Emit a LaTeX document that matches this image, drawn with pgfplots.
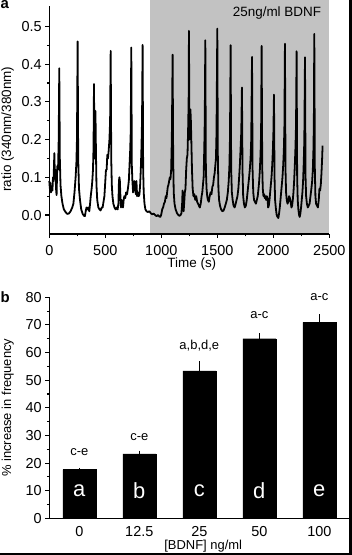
\documentclass[border=0pt]{standalone}
\usepackage{fontspec}
\setmainfont{Liberation Sans}
\usepackage{pgfplots}
\usepackage{pgfplotstable}
\pgfplotsset{compat=1.18}
\definecolor{shadegray}{gray}{0.76}

\pgfplotstableread{
t v
0 0.09
5 0.07
10 0.085
15 0.06
22 0.075
28 0.065
33 0.10
38 0.09
45 0.164
50 0.10
55 0.12
60 0.07
65 0.053
71 0.13
78 0.12
84 0.20
89 0.389
94 0.15
100 0.08
108 0.05
118 0.03
130 0.015
145 0.008
160 0.003
175 0.004
190 0.01
205 0.02
215 0.03
225 0.06
235 0.10
242 0.14
247 0.20
253 0.46
258 0.15
265 0.07
274 0.04
285 0.015
298 0.003
310 -0.002
318 -0.003
325 0.01
332 0.02
339 0.015
347 0.02
357 0.01
364 0.03
370 0.05
378 0.07
384 0.09
390 0.12
395 0.18
399 0.347
403 0.15
408 0.18
412 0.276
416 0.18
421 0.08
428 0.04
438 0.02
448 0.015
458 0.012
468 0.02
476 0.02
484 0.035
492 0.05
500 0.09
506 0.12
512 0.12
518 0.16
524 0.15
530 0.17
537 0.20
543 0.25
548 0.435
553 0.15
558 0.08
564 0.05
572 0.03
582 0.02
592 0.015
602 0.02
610 0.015
617 0.03
622 0.09
626 0.10
630 0.09
635 0.05
640 0.02
646 0.04
652 0.03
658 0.02
664 0.04
670 0.05
678 0.045
686 0.06
694 0.055
702 0.07
710 0.09
716 0.13
722 0.17
727 0.22
732 0.444
737 0.13
742 0.09
748 0.06
754 0.07
760 0.09
766 0.08
772 0.055
778 0.09
784 0.05
790 0.06
798 0.05
805 0.055
811 0.08
817 0.12
823 0.18
828 0.25
833 0.451
838 0.12
843 0.06
850 0.03
858 0.015
868 0.01
880 0.008
893 0.01
905 0.005
918 0.002
930 0.004
945 0.0
958 -0.003
970 0.0
982 -0.004
992 -0.005
1000 0.002
1008 0.015
1016 0.02
1024 0.03
1032 0.035
1040 0.05
1046 0.045
1052 0.06
1058 0.075
1064 0.08
1070 0.09
1076 0.10
1082 0.095
1088 0.12
1094 0.20
1101 0.425
1106 0.15
1111 0.06
1118 0.03
1128 0.015
1140 0.005
1152 0.0
1162 -0.002
1172 0.0
1180 0.005
1186 0.03
1190 0.065
1194 0.02
1199 0.01
1204 0.03
1210 0.06
1216 0.07
1222 0.12
1228 0.15
1234 0.16
1239 0.22
1244 0.30
1247 0.488
1251 0.20
1256 0.22
1260 0.28
1264 0.25
1268 0.20
1274 0.12
1280 0.07
1287 0.05
1295 0.055
1303 0.04
1312 0.05
1320 0.035
1328 0.03
1336 0.025
1344 0.02
1352 0.03
1360 0.05
1366 0.06
1372 0.08
1378 0.10
1384 0.18
1388 0.25
1393 0.463
1398 0.12
1404 0.07
1410 0.05
1416 0.04
1424 0.035
1432 0.05
1440 0.06
1448 0.055
1456 0.075
1463 0.08
1470 0.10
1476 0.11
1482 0.13
1488 0.15
1493 0.22
1500 0.494
1505 0.15
1510 0.07
1516 0.04
1524 0.025
1534 0.015
1545 0.01
1556 0.012
1566 0.02
1576 0.03
1585 0.04
1594 0.06
1602 0.09
1608 0.13
1613 0.20
1619 0.45
1624 0.12
1630 0.06
1637 0.04
1645 0.025
1655 0.02
1664 0.03
1672 0.04
1680 0.05
1688 0.07
1695 0.10
1701 0.13
1707 0.17
1714 0.22
1720 0.338
1725 0.12
1731 0.05
1738 0.03
1746 0.02
1755 0.025
1763 0.04
1770 0.06
1777 0.08
1784 0.10
1790 0.12
1797 0.15
1803 0.20
1810 0.419
1815 0.12
1821 0.06
1828 0.04
1836 0.035
1845 0.03
1853 0.04
1861 0.05
1868 0.07
1874 0.09
1880 0.12
1886 0.16
1891 0.22
1896 0.448
1901 0.13
1906 0.07
1912 0.05
1918 0.055
1924 0.045
1930 0.05
1936 0.04
1942 0.05
1948 0.045
1954 0.02
1960 0.025
1966 0.04
1972 0.06
1978 0.08
1984 0.10
1990 0.13
1996 0.17
2001 0.22
2006 0.319
2011 0.10
2016 0.04
2022 0.02
2030 0.0
2038 -0.005
2045 -0.008
2052 0.005
2058 0.02
2064 0.04
2070 0.06
2076 0.08
2082 0.10
2088 0.13
2094 0.17
2099 0.23
2104 0.454
2109 0.12
2114 0.06
2120 0.04
2127 0.03
2134 0.035
2141 0.05
2148 0.045
2155 0.035
2162 0.02
2168 0.025
2174 0.04
2180 0.06
2186 0.09
2192 0.13
2198 0.18
2203 0.24
2208 0.434
2213 0.10
2218 0.04
2224 0.015
2230 0.0
2236 -0.005
2242 0.005
2248 0.02
2254 0.04
2260 0.06
2266 0.09
2272 0.14
2277 0.20
2283 0.418
2288 0.10
2293 0.05
2300 0.03
2308 0.02
2316 0.025
2324 0.03
2332 0.05
2340 0.07
2347 0.09
2353 0.12
2358 0.17
2362 0.24
2366 0.48
2371 0.12
2376 0.05
2382 0.03
2390 0.025
2398 0.02
2406 0.04
2412 0.07
2418 0.065
2424 0.08
2430 0.11
2436 0.15
2440 0.184
}\tracedata

\pgfplotstableread{
x y e
0 17.6 0.7
1 23.3 1.2
2 53.4 3.5
3 65.0 1.9
4 70.9 3.0
}\bardata

\begin{document}
\begin{tikzpicture}
\useasboundingbox (0bp,0bp) rectangle (352bp,-555bp);
\fill[black] (348.5bp,0bp) rectangle (352bp,-555bp);
\fill[black] (0bp,-553.2bp) rectangle (352bp,-555bp);
\node[font=\fontsize{15}{15}\selectfont\bfseries, anchor=base west, inner sep=0pt] at (0.5bp,-8.3bp) {a};
\node[font=\fontsize{15}{15}\selectfont\bfseries, anchor=base west, inner sep=0pt] at (0.5bp,-302.3bp) {b};

\begin{axis}[
  at={(49.3bp,-233.9bp)}, anchor=south west,
  scale only axis, width=280bp, height=228.3bp,
  xmin=0, xmax=2500, ymin=-0.05, ymax=0.555,
  axis x line*=bottom, axis y line*=left,
  axis line style={line width=1.3bp, black, -},
  clip=false, axis on top,
  xtick={0,500,...,2500}, minor x tick num=1,
  ytick={0,0.1,...,0.5}, minor y tick num=1,
  tick align=outside, major tick length=4bp, minor tick length=2.5bp,
  tick style={line width=1.1bp, black},
  /pgf/number format/assume math mode=true,
  xticklabel style={/pgf/number format/1000 sep={}, yshift=-3.5bp},
  yticklabel style={/pgf/number format/.cd, fixed, fixed zerofill, precision=1},
  tick label style={font=\fontsize{14.5}{14.5}\selectfont},
  xlabel={Time (s)},
  ylabel={ratio (340nm/380nm)},
  label style={font=\fontsize{13.5}{13.5}\selectfont},
  xlabel style={at={(axis description cs:0.509,-0.13)}, anchor=center},
  ylabel style={at={(axis description cs:-0.149,0.459)}, anchor=center},
]
\fill[shadegray] (axis cs:900,-0.05) rectangle (axis cs:2500,0.571);
\node[font=\fontsize{13.5}{13.5}\selectfont, anchor=east] at (axis cs:2458,0.536) {25ng/ml BDNF};
\addplot[black, line width=1.8bp, line join=round, mark=none] table[x=t, y=v] {\tracedata};
\end{axis}

\begin{axis}[
  at={(49.3bp,-518.3bp)}, anchor=south west,
  scale only axis, width=300bp, height=221bp,
  xmin=-0.5, xmax=4.5, ymin=0, ymax=80,
  axis x line*=bottom, axis y line*=left,
  axis line style={line width=1.3bp, black, -},
  clip=false,
  ybar, bar width=33bp,
  xtick={0,1,2,3,4}, xticklabels={0,12.5,25,50,100},
  x tick style={draw=none},
  xticklabel style={yshift=-1bp},
  ytick={0,10,...,80}, minor y tick num=1,
  tick align=outside, major tick length=4bp, minor tick length=2.5bp,
  tick style={line width=1.1bp, black},
  /pgf/number format/assume math mode=true,
  tick label style={font=\fontsize{14.5}{14.5}\selectfont},
  xlabel={[BDNF] ng/ml},
  ylabel={\% increase in frequency},
  label style={font=\fontsize{13}{13}\selectfont},
  xlabel style={at={(axis description cs:0.513,-0.128)}, anchor=center},
  ylabel style={at={(axis description cs:-0.138,0.5)}, anchor=center},
]
\addplot[fill=black, draw=black,
  error bars/.cd, y dir=plus, y explicit,
  error bar style={line width=1.6bp, black},
  error mark options={draw=none, mark size=0pt}]
  table[x=x, y=y, y error=e] {\bardata};
\node[white, font=\fontsize{22}{22}\selectfont] at (axis cs:0,10) {a};
\node[white, font=\fontsize{22}{22}\selectfont] at (axis cs:1,10) {b};
\node[white, font=\fontsize{22}{22}\selectfont] at (axis cs:2,10) {c};
\node[white, font=\fontsize{22}{22}\selectfont] at (axis cs:3,10) {d};
\node[white, font=\fontsize{22}{22}\selectfont] at (axis cs:4,10) {e};
\node[font=\fontsize{13}{13}\selectfont] at (axis cs:0,23.9) {c-e};
\node[font=\fontsize{13}{13}\selectfont] at (axis cs:1,29.5) {c-e};
\node[font=\fontsize{13}{13}\selectfont] at (axis cs:2,62.5) {a,b,d,e};
\node[font=\fontsize{13}{13}\selectfont] at (axis cs:3,73.6) {a-c};
\node[font=\fontsize{13}{13}\selectfont] at (axis cs:4,80) {a-c};
\end{axis}
\end{tikzpicture}
\end{document}
